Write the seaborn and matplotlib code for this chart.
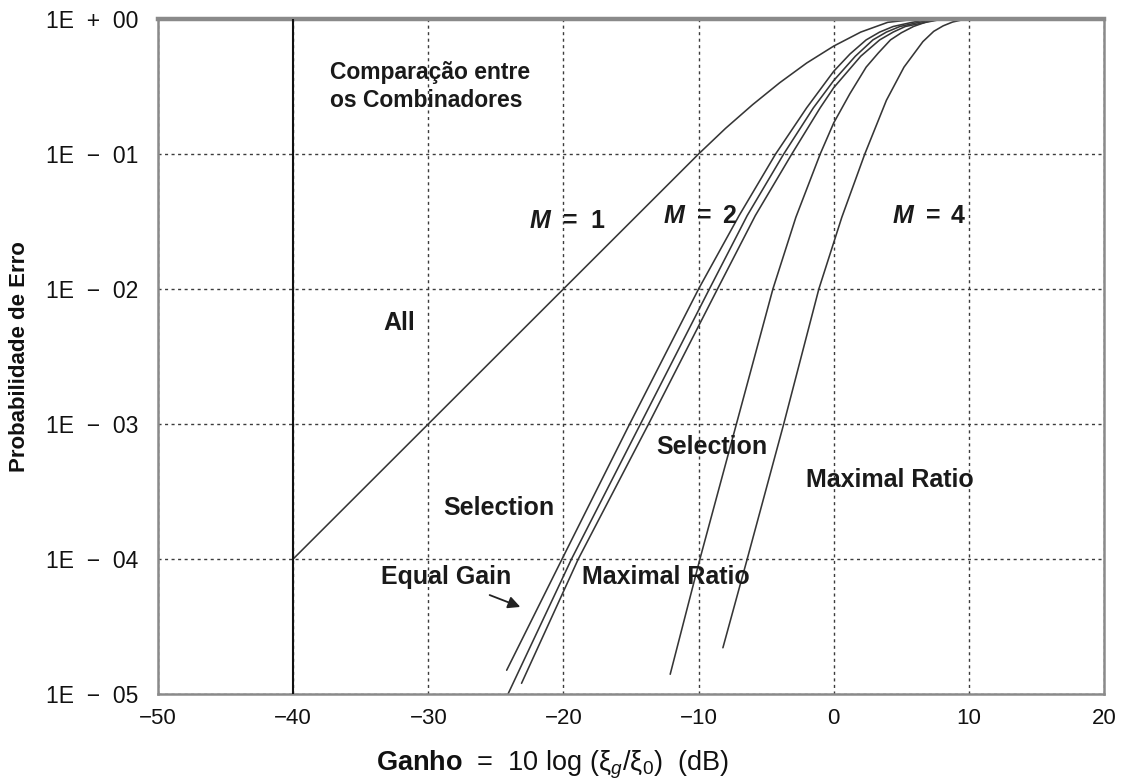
import numpy as np
import pandas as pd
import matplotlib
matplotlib.use("Agg")
import matplotlib.pyplot as plt
import seaborn as sns

# Gain (dB) and error probability
m1_all_x = [-40, -30, -20, -10, -8, -6, -4, -2, 0, 2, 4, 6, 7]
m1_all_p = [1e-4, 1e-3, 1e-2, 1e-1, 0.155, 0.232, 0.337, 0.472, 0.63, 0.80, 0.945, 0.995, 1.0]

m2_a_x = [-24.2, -20.1, -15.1, -10.0, -7.0, -4.3, -2.0, 0, 1.2, 2.4, 3.4, 4.4, 5.7, 7.1]
m2_a_p = [1.5e-5, 1e-4, 1e-3, 1e-2, 0.035, 1e-1, 0.22, 0.41, 0.55, 0.70, 0.80, 0.88, 0.94, 1.0]
m2_b_x = [-24.1, -19.4, -14.3, -9.2, -6.4, -3.7, -1.5, 0, 1.6, 2.9, 3.9, 4.9, 6.2, 7.6]
m2_b_p = [1e-5, 1e-4, 1e-3, 1e-2, 0.035, 1e-1, 0.22, 0.35, 0.53, 0.70, 0.80, 0.88, 0.94, 1.0]
m2_c_x = [-23.1, -18.9, -13.7, -8.6, -5.8, -3.1, -1.0, 0, 2.0, 3.4, 4.4, 5.3, 6.7, 8.1]
m2_c_p = [1.2e-5, 1e-4, 1e-3, 1e-2, 0.035, 1e-1, 0.22, 0.31, 0.53, 0.70, 0.80, 0.88, 0.94, 1.0]

m4_sel_x = [-12.1, -9.9, -7.2, -4.5, -2.8, -1.0, 0, 1.2, 2.4, 3.3, 4.2, 5.0, 5.9, 6.9, 7.9]
m4_sel_p = [1.4e-5, 1e-4, 1e-3, 1e-2, 0.034, 1e-1, 0.17, 0.28, 0.44, 0.56, 0.70, 0.79, 0.88, 0.955, 1.0]
m4_mrc_x = [-8.2, -6.4, -3.7, -1.1, 0.6, 2.3, 3.9, 5.2, 6.6, 7.4, 8.1, 8.8, 9.6, 10]
m4_mrc_p = [2.2e-5, 1e-4, 1e-3, 1e-2, 0.034, 1e-1, 0.25, 0.44, 0.68, 0.81, 0.89, 0.95, 0.99, 1.0]

x_ticks = [-50, -40, -30, -20, -10, 0, 10, 20]
x_tick_labels = ["\u221250", "\u221240", "\u221230", "\u221220", "\u221210", "0", "10", "20"]
y_ticks = [1e-5, 1e-4, 1e-3, 1e-2, 1e-1, 1e0]
y_tick_labels = ["1E  \u2212  05", "1E  \u2212  04", "1E  \u2212  03",
                 "1E  \u2212  02", "1E  \u2212  01", "1E  +  00"]

curves = {
    "M1 all": (m1_all_x, m1_all_p),
    "M2 a": (m2_a_x, m2_a_p),
    "M2 b": (m2_b_x, m2_b_p),
    "M2 c": (m2_c_x, m2_c_p),
    "M4 selection": (m4_sel_x, m4_sel_p),
    "M4 maximal ratio": (m4_mrc_x, m4_mrc_p),
}
df = pd.concat(
    [pd.DataFrame({"curve": k, "gain": v[0], "p": v[1]}) for k, v in curves.items()],
    ignore_index=True,
)

sns.set_theme(style="white")
plt.rcParams["font.family"] = ["Liberation Sans", "DejaVu Sans"]
plt.rcParams["mathtext.fontset"] = "custom"
plt.rcParams["mathtext.rm"] = "Liberation Sans"
plt.rcParams["mathtext.it"] = "Liberation Sans:italic"
plt.rcParams["mathtext.bf"] = "Liberation Sans:bold"

fig = plt.figure(figsize=(11.24, 7.82), dpi=100)
ax = fig.add_axes([158 / 1124, 1 - 694 / 782, (1104 - 158) / 1124, (694 - 19) / 782])

sns.lineplot(data=df, x="gain", y="p", hue="curve", units="curve", estimator=None,
             sort=False, palette=["#363636"] * len(curves), linewidth=1.15,
             legend=False, ax=ax)

ax.set_yscale("log")
ax.set_xlim(-50, 20)
ax.set_ylim(1e-5, 1)
ax.set_xticks(x_ticks)
ax.set_xticklabels(x_tick_labels)
ax.set_yticks(y_ticks)
ax.set_yticklabels(y_tick_labels)
ax.minorticks_off()
ax.set_xlabel("")
ax.set_ylabel("")

ax.grid(True, which="major", linestyle=(0, (2.2, 2.5)), color="#3c3c3c", linewidth=1.0)
ax.axvline(-40, color="#111111", linewidth=1.5, zorder=3)

for side in ["left", "bottom", "right"]:
    ax.spines[side].set_color("#8a8a8a")
    ax.spines[side].set_linewidth(1.8)
ax.spines["top"].set_color("#8a8a8a")
ax.spines["top"].set_linewidth(3.2)

ax.tick_params(axis="x", direction="inout", length=12, width=1.2, color="#333333",
               labelsize=16, pad=4, labelcolor="#111111")
ax.tick_params(axis="y", direction="out", length=8, width=1.2, color="#333333",
               labelsize=16.5, pad=6, labelcolor="#111111")

bold = dict(fontweight="bold", color="#1a1a1a", va="center", ha="left")
ax.text(-37.3, 0.40, "Comparação entre", fontsize=16.5, **bold)
ax.text(-37.3, 0.25, "os Combinadores", fontsize=16.5, **bold)

# "M = n" labels: italic M, then the equals sign and the branch count
for mx, ex, nx, py, n in [(-22.47, -20.03, -18.03, 0.032, "1"),
                          (-12.56, -10.12, -8.27, 0.035, "2"),
                          (4.39, 6.83, 8.68, 0.035, "4")]:
    ax.text(mx, py, "M", fontsize=18, fontstyle="italic", **bold)
    ax.text(ex, py, "=", fontsize=18, **bold)
    ax.text(nx, py, n, fontsize=18, **bold)

ax.text(-33.35, 0.0056, "All", fontsize=18, **bold)
ax.text(-28.9, 2.4e-4, "Selection", fontsize=18, **bold)
ax.text(-33.5, 7.4e-5, "Equal Gain", fontsize=18, **bold)
ax.text(-18.6, 7.4e-5, "Maximal Ratio", fontsize=18, **bold)
ax.text(-13.15, 6.8e-4, "Selection", fontsize=18, **bold)
ax.text(-2.05, 3.85e-4, "Maximal Ratio", fontsize=18, **bold)

ax.annotate("", xy=(-23.0, 4.34e-5), xytext=(-25.65, 5.5e-5),
            arrowprops=dict(arrowstyle="-|>", color="#222222", lw=1.3,
                            mutation_scale=18))

fig.text(20 / 1124, 1 - 357 / 782, "Probabilidade de Erro", rotation=90,
         ha="center", va="center", fontsize=16, fontweight="bold", color="#111111")
fig.text(553 / 1124, 1 - 765 / 782,
         r"$\mathbf{Ganho}$  =  10 log ($\mathrm{\xi}_g/\mathrm{\xi}_0$)  (dB)",
         ha="center", va="center", fontsize=19.5, color="#111111")

fig.savefig("out.png", dpi=100)
